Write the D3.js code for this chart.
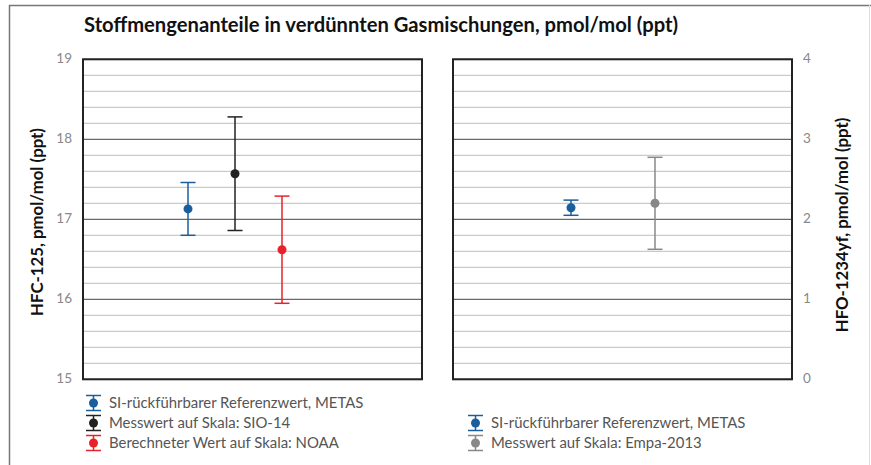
<!DOCTYPE html>
<html><head><meta charset="utf-8">
<script src="https://cdn.jsdelivr.net/npm/d3@7"></script>
<style>body{margin:0;background:#fff}svg{display:block}</style>
</head><body>
<svg id="c" width="871" height="465"></svg>
<script>
// ---- data ----
const title = "Stoffmengenanteile in verdünnten Gasmischungen, pmol/mol (ppt)";
const leftLabel = "HFC-125, pmol/mol (ppt)";
const rightLabel = "HFO-1234yf, pmol/mol (ppt)";
const leftCategories = ["SI-rückführbarer Referenzwert, METAS", "Messwert auf Skala: SIO-14", "Berechneter Wert auf Skala: NOAA"];
const leftValues = [17.13, 17.57, 16.62];
const leftUnc = [0.33, 0.71, 0.67];
const leftColors = ["#1b5e9e", "#222222", "#e8222b"];
const rightCategories = ["SI-rückführbarer Referenzwert, METAS", "Messwert auf Skala: Empa-2013"];
const rightValues = [2.145, 2.20];
const rightUnc = [0.095, 0.575];
const rightColors = ["#1b5e9e", "#888888"];
const leftTicks = [15, 16, 17, 18, 19];
const rightTicks = [0, 1, 2, 3, 4];

const svg = d3.select("#c");
const font = "Lato, 'Open Sans', sans-serif";

// outer frame
svg.append("line").attr("x1", 9).attr("x2", 871).attr("y1", 5.5).attr("y2", 5.5).attr("stroke", "#777").attr("stroke-width", 1.5);
svg.append("line").attr("x1", 9.5).attr("x2", 9.5).attr("y1", 5).attr("y2", 465).attr("stroke", "#777").attr("stroke-width", 1.5);
svg.append("line").attr("x1", 869.5).attr("x2", 869.5).attr("y1", 5).attr("y2", 465).attr("stroke", "#ddd").attr("stroke-width", 1);

svg.append("text").attr("x", 84).attr("y", 32).text(title)
  .attr("font-family", font).attr("font-weight", "bold").attr("font-size", 20.2).attr("fill", "#111");

const plotTop = 59.3, plotBottom = 379.3;

function panel(x0, x1, domain, ticks, cats, vals, unc, cols, xRange, tickSide) {
  const y = d3.scaleLinear().domain(domain).range([plotBottom, plotTop]);
  const x = d3.scalePoint().domain(cats).range(xRange);
  const g = svg.append("g");
  const minor = d3.range(0, 20).map(i => domain[0] + (domain[1] - domain[0]) * i / 20).filter((v, i) => i % 5 !== 0);
  g.selectAll(".mn").data(minor).join("line")
    .attr("x1", x0).attr("x2", x1).attr("y1", d => y(d)).attr("y2", d => y(d))
    .attr("stroke", "#bdbdbd").attr("stroke-width", 1);
  g.selectAll(".mj").data(ticks).join("line")
    .attr("x1", x0).attr("x2", x1).attr("y1", d => y(d)).attr("y2", d => y(d))
    .attr("stroke", "#444").attr("stroke-width", 1);
  g.append("rect").attr("x", x0).attr("y", plotTop).attr("width", x1 - x0).attr("height", plotBottom - plotTop)
    .attr("fill", "none").attr("stroke", "#222").attr("stroke-width", 2);
  const axis = tickSide === "left" ? d3.axisLeft(y) : d3.axisRight(y);
  axis.tickValues(ticks).tickFormat(d3.format("d")).tickSize(0).tickPadding(11);
  const ax = svg.append("g").attr("transform", `translate(${tickSide === "left" ? x0 : x1},-1)`).call(axis);
  ax.select(".domain").remove();
  ax.selectAll("text").attr("font-family", font).attr("font-size", 13.5).attr("fill", "#888");
  const pts = svg.append("g").selectAll("g").data(cats).join("g");
  pts.append("line").attr("x1", d => x(d)).attr("x2", d => x(d))
    .attr("y1", (d, i) => y(vals[i] - unc[i])).attr("y2", (d, i) => y(vals[i] + unc[i]))
    .attr("stroke", (d, i) => cols[i]).attr("stroke-width", 1.5);
  [-1, 1].forEach(s => {
    pts.append("line").attr("x1", d => x(d) - 7.5).attr("x2", d => x(d) + 7.5)
      .attr("y1", (d, i) => y(vals[i] + s * unc[i])).attr("y2", (d, i) => y(vals[i] + s * unc[i]))
      .attr("stroke", (d, i) => cols[i]).attr("stroke-width", 1.5);
  });
  pts.append("circle").attr("cx", d => x(d)).attr("cy", (d, i) => y(vals[i])).attr("r", 4.5)
    .attr("fill", (d, i) => cols[i]);
}

panel(83, 422, [15, 19], leftTicks, leftCategories, leftValues, leftUnc, leftColors, [188, 282], "left");
panel(453, 792, [0, 4], rightTicks, rightCategories, rightValues, rightUnc, rightColors, [571, 655], "right");

svg.append("text").attr("transform", "translate(43,222) rotate(-90)").attr("text-anchor", "middle")
  .text(leftLabel).attr("font-family", font).attr("font-weight", "bold").attr("font-size", 16.8).attr("fill", "#111");
svg.append("text").attr("transform", "translate(848,225) rotate(-90)").attr("text-anchor", "middle")
  .text(rightLabel).attr("font-family", font).attr("font-weight", "bold").attr("font-size", 16.8).attr("fill", "#111");

function legend(x, y0, cats, cols) {
  const g = svg.append("g").selectAll("g").data(cats).join("g")
    .attr("transform", (d, i) => `translate(${x},${y0 + i * 20})`);
  g.append("line").attr("x1", 0).attr("x2", 0).attr("y1", -7.5).attr("y2", 7.5).attr("stroke", (d, i) => cols[i]).attr("stroke-width", 1.5);
  g.append("line").attr("x1", -7.5).attr("x2", 7.5).attr("y1", -7.5).attr("y2", -7.5).attr("stroke", (d, i) => cols[i]).attr("stroke-width", 1.5);
  g.append("line").attr("x1", -7.5).attr("x2", 7.5).attr("y1", 7.5).attr("y2", 7.5).attr("stroke", (d, i) => cols[i]).attr("stroke-width", 1.5);
  g.append("circle").attr("r", 4.5).attr("fill", (d, i) => cols[i]);
  g.append("text").attr("x", 15.5).attr("y", 5).text(d => d)
    .attr("font-family", font).attr("font-size", 14.9).attr("fill", "#555");
}
legend(93.5, 403, leftCategories, leftColors);
legend(475.5, 423, rightCategories, rightColors);
</script>
</body></html>
